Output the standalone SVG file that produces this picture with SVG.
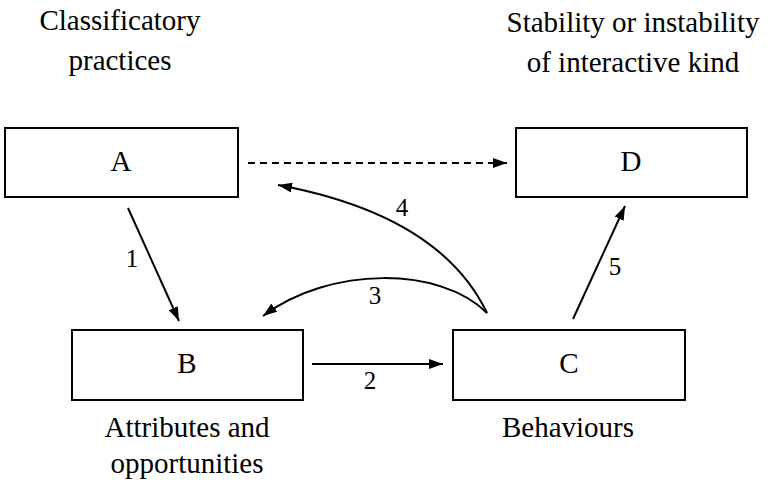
<svg xmlns="http://www.w3.org/2000/svg" width="767" height="488" viewBox="0 0 767 488">
<style>
.box{fill:#fff;stroke:#000;stroke-width:2}
.t{font-family:"Liberation Serif","Times New Roman",serif;font-size:29px;fill:#000;text-anchor:middle}
.n{font-family:"Liberation Serif","Times New Roman",serif;font-size:25px;fill:#000;text-anchor:middle}
.c{fill:none;stroke:#000;stroke-width:2}
</style>
<defs>
<marker id="ah" viewBox="0 0 14 10" refX="14" refY="5" markerWidth="14" markerHeight="10" markerUnits="userSpaceOnUse" orient="auto">
<path d="M0,0 L14,5 L0,10 Z" fill="#000"/>
</marker>
</defs>
<text class="t" x="120" y="30">Classificatory</text>
<text class="t" x="120" y="70">practices</text>
<text class="t" x="633" y="32">Stability or instability</text>
<text class="t" x="633" y="72">of interactive kind</text>
<text class="t" x="187" y="437">Attributes and</text>
<text class="t" x="187" y="473">opportunities</text>
<text class="t" x="568" y="437">Behaviours</text>
<g id="A"><rect class="box" x="5" y="128" width="233" height="69"/><text class="t" x="121" y="171">A</text></g>
<g id="D"><rect class="box" x="516" y="128" width="231" height="69"/><text class="t" x="631" y="171">D</text></g>
<g id="B"><rect class="box" x="72" y="330" width="231" height="70"/><text class="t" x="187" y="373">B</text></g>
<g id="C"><rect class="box" x="453" y="330" width="232" height="70"/><text class="t" x="569" y="373">C</text></g>
<g id="connectors">
<line class="c" x1="248" y1="163" x2="507" y2="163" stroke-dasharray="7,5" stroke-width="2.5" marker-end="url(#ah)"/>
<line class="c" x1="128" y1="208" x2="179" y2="321" marker-end="url(#ah)"/>
<line class="c" x1="312" y1="364" x2="443" y2="364" marker-end="url(#ah)"/>
<line class="c" x1="573" y1="319" x2="625" y2="206" marker-end="url(#ah)"/>
<path class="c" d="M487,313 C440,266 330,266 263,316" marker-end="url(#ah)"/>
<path class="c" d="M487,313 Q440,215 278,185" marker-end="url(#ah)"/>
<text class="n" x="132" y="267">1</text>
<text class="n" x="370" y="389">2</text>
<text class="n" x="375" y="304">3</text>
<text class="n" x="402" y="216">4</text>
<text class="n" x="615" y="275">5</text>
</g>
</svg>
